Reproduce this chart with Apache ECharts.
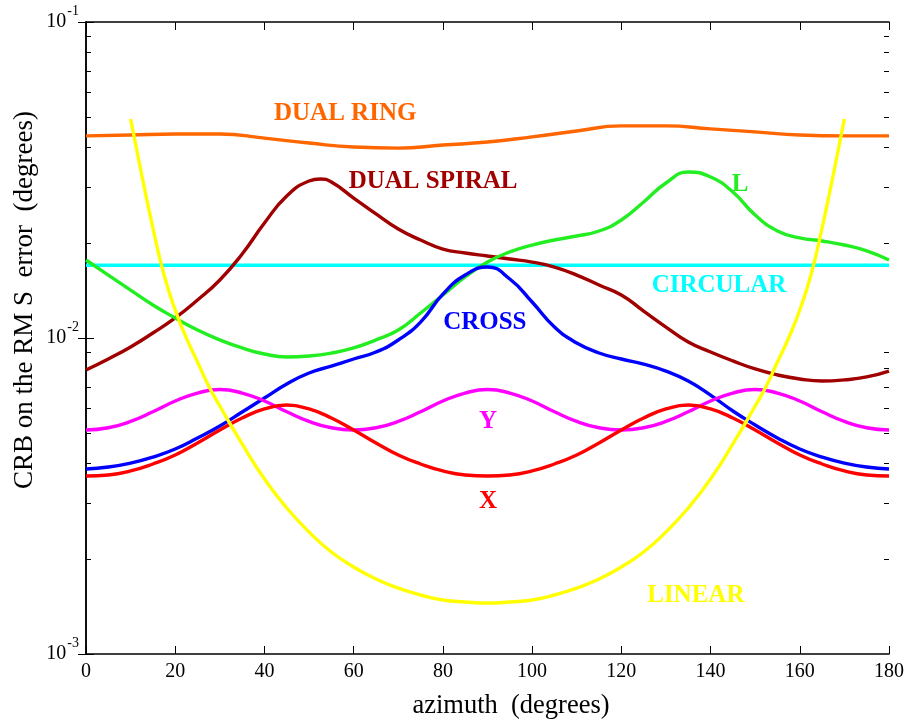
<!DOCTYPE html>
<html><head><meta charset="utf-8">
<script src="https://cdn.jsdelivr.net/npm/echarts@6/dist/echarts.min.js"></script>
<style>html,body{margin:0;padding:0;background:#fff}#c{width:910px;height:724px}</style>
</head><body><div id="c"></div>
<script>
// ---------- data ----------
const AZ5 = [0,5,10,15,20,25,30,35,40,45,50,55,60,65,70,75,80,85,90,95,100,105,110,115,120,125,130,135,140,145,150,155,160,165,170,175,180];
const AZ10 = [0,10,20,30,40,50,60,70,80,90,100,110,120,130,140,150,160,170,180];
const DUAL_SPIRAL_AZ = [0,5,10,15,20,25,30,35,40,45,50,52.5,55,60,65,70,75,80,85,90,95,100,105,110,115,120,125,130,135,140,145,150,155,160,165,170,175,180];
const CIRCULAR_AZ = [0,180];
const LINEAR_AZ = [10,12.5,15,17.5,20,22.5,25,27.5,30,35,40,45,50,55,60,65,70,75,80,85,90,95,100,105,110,115,120,125,130,135,140,145,150,152.5,155,157.5,160,162.5,165,167.5,170];

const DUAL_RING = [0.0436,0.0439,0.0442,0.0442,0.0429,0.0414,0.0402,0.0399,0.0408,0.0417,0.0433,0.0452,0.0469,0.0469,0.0459,0.0449,0.0439,0.0436,0.0436];
const DUAL_SPIRAL = [0.00792,0.00858,0.00937,0.01037,0.01157,0.01319,0.01526,0.01844,0.02312,0.02814,0.03139,0.03186,0.03116,0.02773,0.02469,0.02213,0.02042,0.01912,0.01858,0.01817,0.01778,0.01739,0.01677,0.01582,0.01471,0.01368,0.01217,0.01083,0.00971,0.00903,0.00846,0.00798,0.00764,0.00742,0.00731,0.00737,0.00753,0.00786];
const L_ARRAY = [0.01765,0.01582,0.01418,0.01272,0.01157,0.0106,0.00986,0.0093,0.0089,0.00871,0.00877,0.00896,0.0093,0.00986,0.0106,0.012,0.01368,0.0156,0.01739,0.01872,0.01969,0.02042,0.02103,0.02181,0.02362,0.02694,0.03094,0.03352,0.03232,0.02897,0.02449,0.02181,0.02073,0.02028,0.01969,0.01886,0.01765];
const CIRCULAR = [0.0170,0.0170];
const CROSS = [0.003848,0.003905,0.00402,0.0042,0.004454,0.004826,0.005266,0.005831,0.006456,0.007151,0.007747,0.00815,0.008581,0.009031,0.009856,0.01123,0.01377,0.01582,0.01677,0.01537,0.0130,0.01083,0.009643,0.008964,0.008581,0.00827,0.00786,0.00731,0.006599,0.005875,0.005305,0.004826,0.004454,0.0042,0.00402,0.003905,0.003848];
const Y_ARRAY = [0.005116,0.005200,0.005445,0.005841,0.006318,0.006697,0.006871,0.006697,0.006318,0.005841,0.005445,0.005200,0.005116,0.005200,0.005445,0.005841,0.006318,0.006697,0.006871,0.006697,0.006318,0.005841,0.005445,0.005200,0.005116,0.005200,0.005445,0.005841,0.006318,0.006697,0.006871,0.006697,0.006318,0.005841,0.005445,0.005200,0.005116];
const X_ARRAY = [0.003659,0.003686,0.003795,0.003992,0.004262,0.004653,0.005116,0.005584,0.005962,0.006138,0.005962,0.005584,0.005116,0.004653,0.004262,0.003992,0.003795,0.003686,0.003659,0.003686,0.003795,0.003992,0.004262,0.004653,0.005116,0.005584,0.005962,0.006138,0.005962,0.005584,0.005116,0.004653,0.004262,0.003992,0.003795,0.003686,0.003659];
const LINEAR = [0.04932,0.0328,0.02229,0.01582,0.01226,0.0100,0.008395,0.007047,0.006092,0.00462,0.00358,0.002897,0.002432,0.002103,0.001886,0.001727,0.001617,0.001537,0.001482,0.001461,0.00145,0.001461,0.001482,0.001537,0.001617,0.001727,0.001886,0.002103,0.002432,0.002897,0.00358,0.00462,0.006092,0.007047,0.008395,0.0100,0.01226,0.01582,0.02229,0.0328,0.04932];

const X_TICKS = [0,20,40,60,80,100,120,140,160,180];
const Y_MINOR_TICKS = [0.002,0.003,0.004,0.005,0.006,0.007,0.008,0.009,0.02,0.03,0.04,0.05,0.06,0.07,0.08,0.09];

const LABEL_TEXT = ['DUAL RING','DUAL SPIRAL','L','CIRCULAR','CROSS','Y','X','LINEAR'];
const LABEL_AZ = [58.1,77.8,146.6,141.9,89.4,90.1,90.1,136.7];
const LABEL_VAL = [0.0512,0.0312,0.0307,0.0147,0.0112,0.00546,0.00303,0.00153];

const X_TITLE = 'azimuth  (degrees)';
const Y_TITLE = 'CRB on the RM S  error  (degrees)';

// ---------- styles ----------
const COLORS = {
  'DUAL RING':'#FF6600','DUAL SPIRAL':'#A00000','L':'#22EE22','CIRCULAR':'#00FFFF',
  'CROSS':'#0000FF','Y':'#FF00FF','X':'#FF0000','LINEAR':'#FFFF00'
};
const FONT = "'Liberation Serif','Times New Roman',serif";
const pair = (xs, ys) => xs.map((x, i) => [x, ys[i]]);

function lineSeries(name, xs, ys) {
  return {
    type:'line', name, data: pair(xs, ys), xAxisIndex:0, yAxisIndex:0,
    symbol:'none', showSymbol:false, smooth:0.5, animation:false,
    lineStyle:{color:COLORS[name], width:3.4}, itemStyle:{color:COLORS[name]}, z:3
  };
}

const gridRect = {left:86, right:21, top:22, bottom:70, containLabel:false, outerBoundsMode:'none'};
const axisLineStyle = {show:true, lineStyle:{color:'#000', width:1.5}};

const xBase = {type:'value', min:0, max:180, interval:20, splitLine:{show:false}};
const yBase = {type:'log', logBase:10, min:0.001, max:0.1, splitLine:{show:false}, minorTick:{show:false}, minorSplitLine:{show:false}};

const chart = echarts.init(document.getElementById('c'), null, {renderer:'canvas'});
chart.setOption({
  backgroundColor:'#fff',
  animation:false,
  grid:[Object.assign({}, gridRect), Object.assign({}, gridRect)],
  xAxis:[
    Object.assign({}, xBase, {gridIndex:0, position:'bottom', axisLine:axisLineStyle,
      axisTick:{show:true, inside:true, length:8, lineStyle:{color:'#000', width:1}, customValues:X_TICKS},
      axisLabel:{show:true, color:'#000', fontSize:20, fontFamily:FONT, margin:8, customValues:X_TICKS}}),
    Object.assign({}, xBase, {gridIndex:0, position:'top', axisLine:axisLineStyle,
      axisTick:{show:true, inside:true, length:8, lineStyle:{color:'#000', width:1}, customValues:X_TICKS},
      axisLabel:{show:false}}),
    Object.assign({}, xBase, {gridIndex:1, show:false})
  ],
  yAxis:[
    Object.assign({}, yBase, {gridIndex:0, position:'left', axisLine:axisLineStyle,
      axisTick:{show:true, inside:true, length:8, lineStyle:{color:'#000', width:1}},
      axisLabel:{show:true, margin:7, padding:[0,0,8,0],
        formatter: v => '{b|10}{s|' + Math.round(Math.log10(v)) + '}',
        rich:{
          b:{fontSize:20, fontFamily:FONT, color:'#000', padding:[8,0,0,0], verticalAlign:'bottom'},
          s:{fontSize:14, fontFamily:FONT, color:'#000', verticalAlign:'top', padding:[0,0,0,1]}
        }}}),
    Object.assign({}, yBase, {gridIndex:0, position:'right', axisLine:axisLineStyle,
      axisTick:{show:true, inside:true, length:8, lineStyle:{color:'#000', width:1}},
      axisLabel:{show:false}}),
    Object.assign({}, yBase, {gridIndex:1, position:'left', axisLine:{show:false},
      axisTick:{show:true, inside:true, length:5, lineStyle:{color:'#000', width:1}, customValues:Y_MINOR_TICKS},
      axisLabel:{show:false}}),
    Object.assign({}, yBase, {gridIndex:1, position:'right', axisLine:{show:false},
      axisTick:{show:true, inside:true, length:5, lineStyle:{color:'#000', width:1}, customValues:Y_MINOR_TICKS},
      axisLabel:{show:false}})
  ],
  series:[
    lineSeries('CIRCULAR', CIRCULAR_AZ, CIRCULAR),
    lineSeries('DUAL RING', AZ10, DUAL_RING),
    lineSeries('DUAL SPIRAL', DUAL_SPIRAL_AZ, DUAL_SPIRAL),
    lineSeries('L', AZ5, L_ARRAY),
    lineSeries('CROSS', AZ5, CROSS),
    lineSeries('Y', AZ5, Y_ARRAY),
    lineSeries('X', AZ5, X_ARRAY),
    lineSeries('LINEAR', LINEAR_AZ, LINEAR),
    {
      type:'scatter', name:'labels', xAxisIndex:0, yAxisIndex:0, symbolSize:1, silent:true, z:5,
      itemStyle:{opacity:0},
      data: LABEL_TEXT.map((t, i) => ({
        value:[LABEL_AZ[i], LABEL_VAL[i]], name:t,
        label:{show:true, position:'inside', formatter:t, color:COLORS[t], fontSize:25, fontWeight:'bold', fontFamily:FONT, opacity:1}
      }))
    }
  ],
  graphic:[
    {type:'text', x:511, y:706, silent:true,
      style:{text:X_TITLE, fontSize:26.5, fontFamily:FONT, fill:'#000', align:'center', verticalAlign:'middle'}},
    {type:'text', x:25, y:300, rotation:Math.PI/2, silent:true,
      style:{text:Y_TITLE, fontSize:27, fontFamily:FONT, fill:'#000', align:'center', verticalAlign:'middle'}}
  ]
});
</script></body></html>
